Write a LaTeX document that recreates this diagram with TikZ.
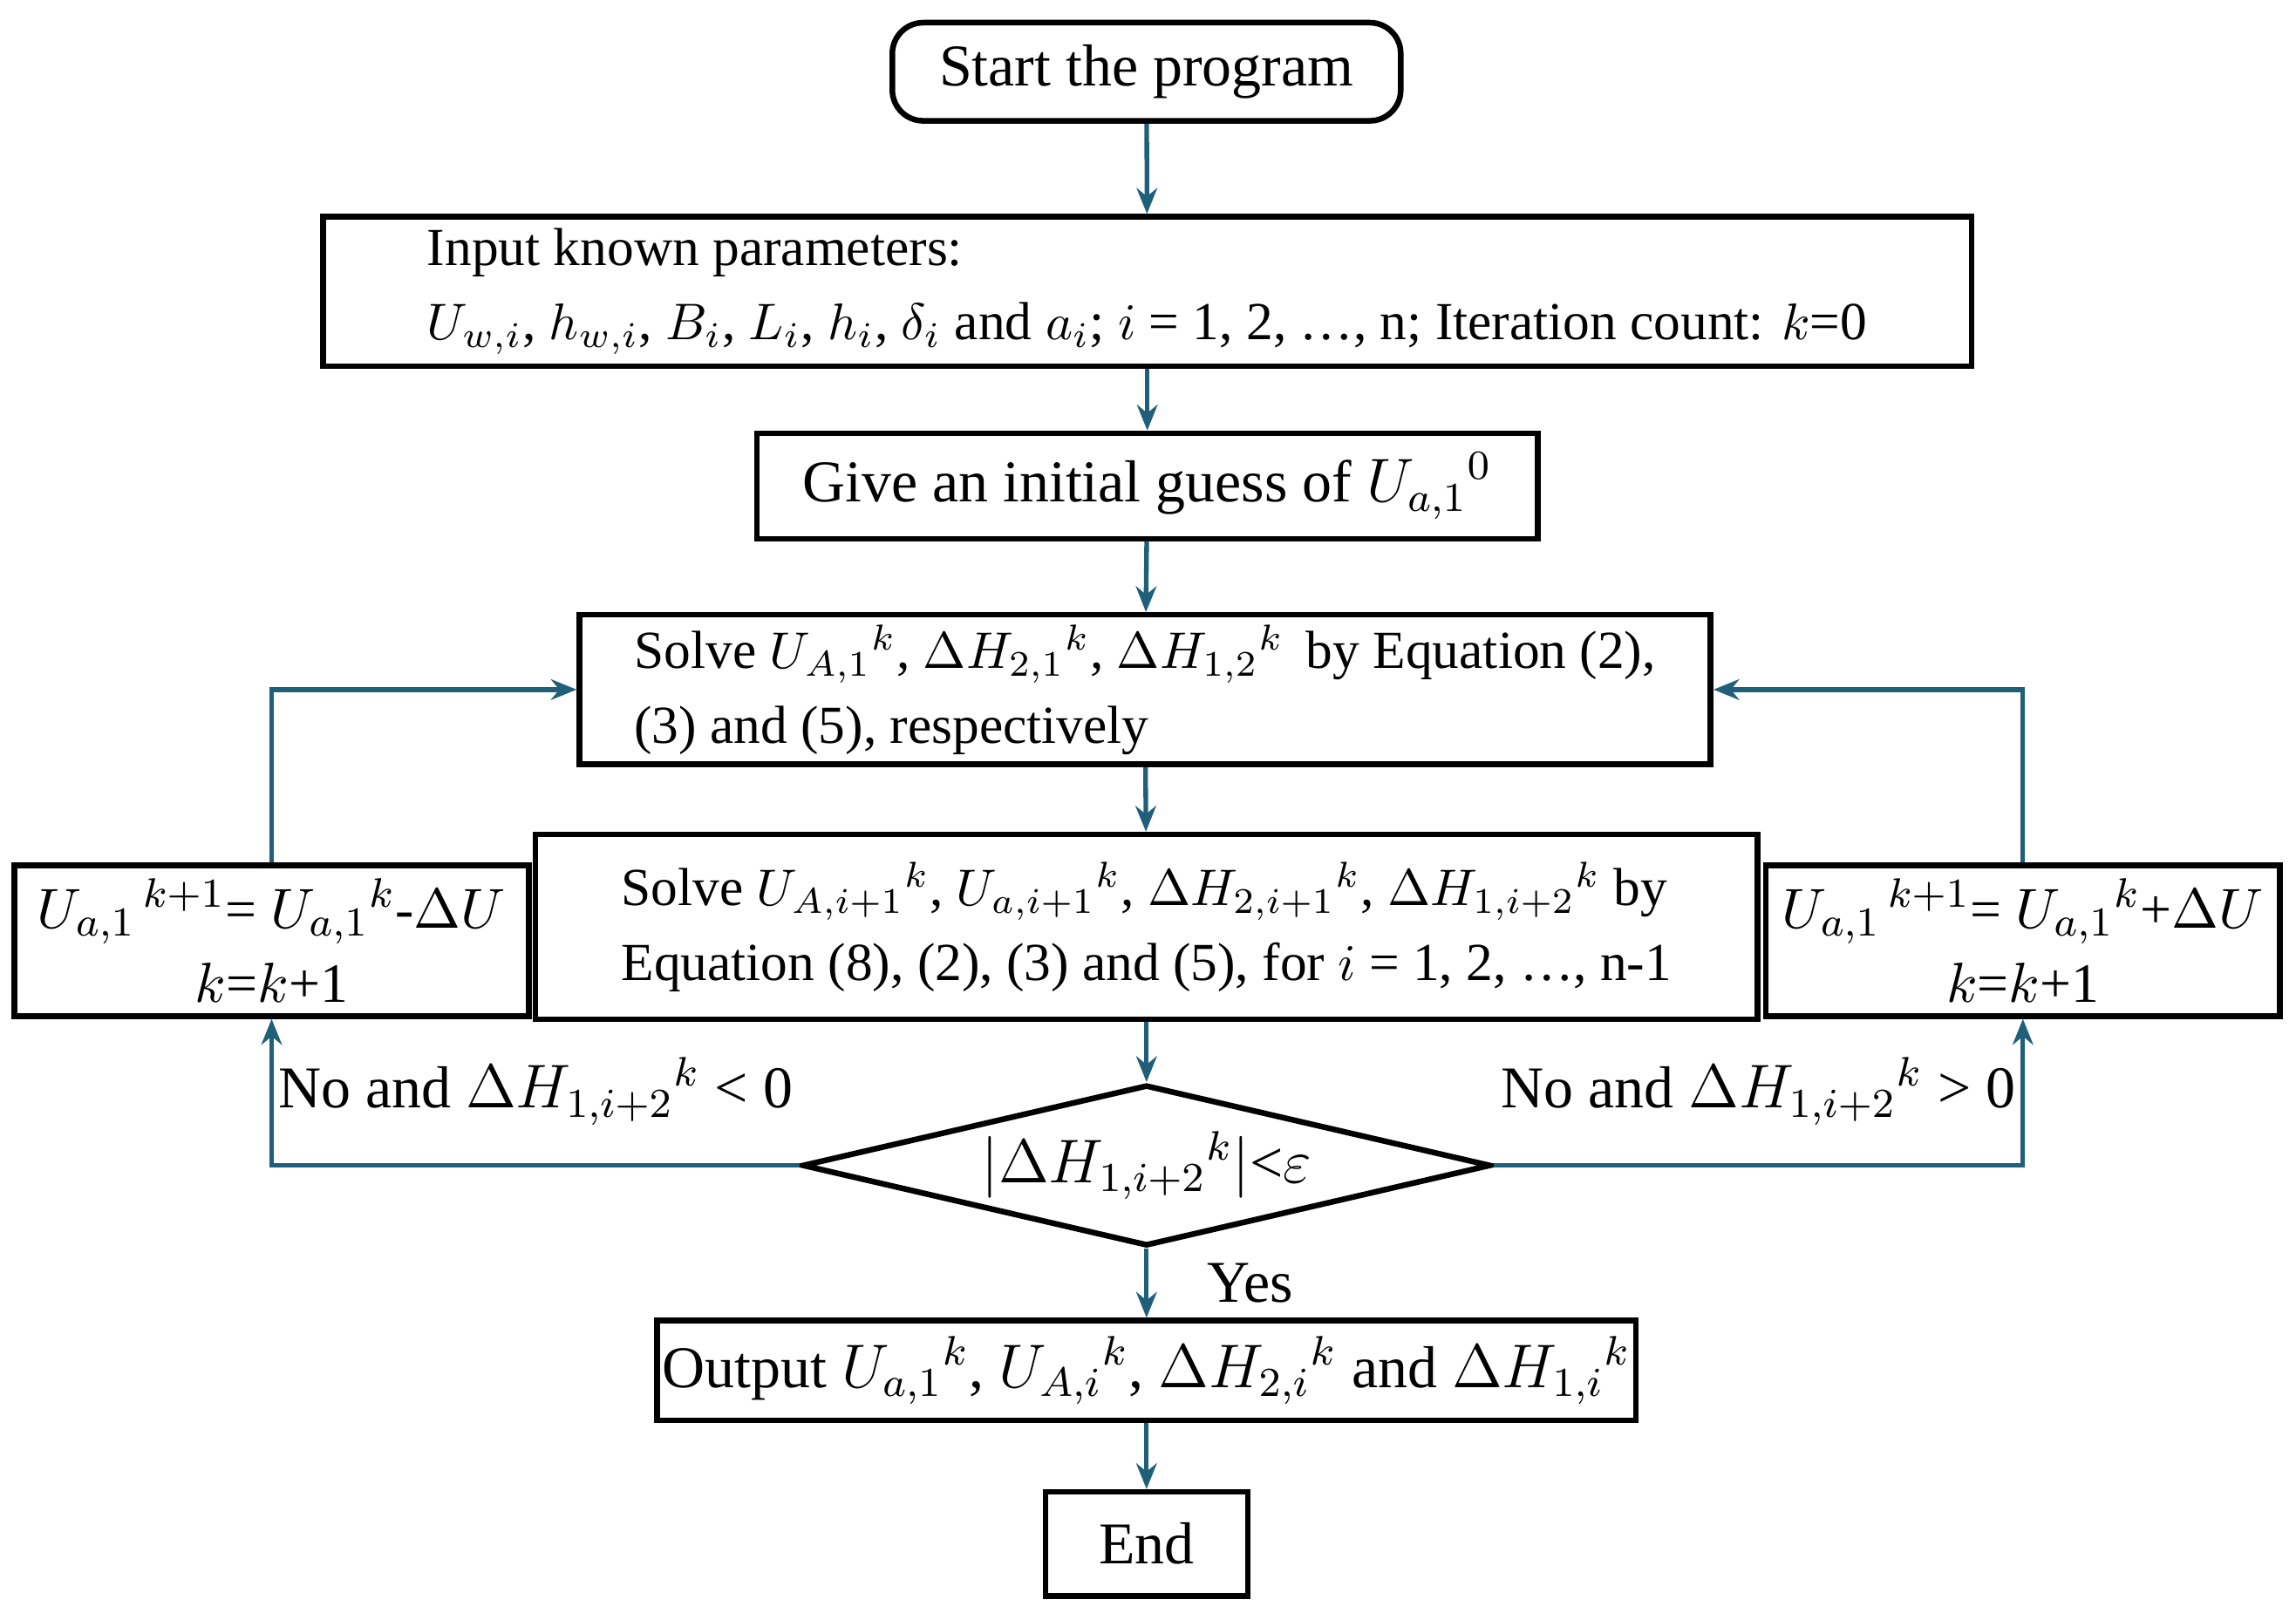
\documentclass[tikz,border=0pt]{standalone}
\usepackage{fontspec}
\setmainfont{Liberation Serif}
\usetikzlibrary{positioning,shapes.geometric,arrows.meta}
\definecolor{linkblue}{RGB}{31,95,122}
\tikzset{>={Stealth[length=5pt,width=4pt]}}
\tikzset{
  box/.style={draw,line width=1.1pt,inner sep=0pt,font=\fontsize{11.5}{14.5}\selectfont},
  wide/.style={font=\fontsize{10.4}{14.5}\selectfont,align=left},
  flow/.style={->,draw=linkblue,line width=0.9pt}
}
\begin{document}
\begin{tikzpicture}[x=0.01cm,y=-0.01cm]
\useasboundingbox (0,0) rectangle (1568,1106);

% Boxes
\node[box,rounded corners=6pt,minimum width=3.47cm,minimum height=0.67cm] (start) at (783,49) {Start the program};
\node[box,wide,minimum width=11.25cm,minimum height=1.02cm] (input) at (783.5,199)
  {Input known parameters:\\
   $U_{w,i}$, $h_{w,i}$, $B_i$, $L_i$, $h_i$, $\delta_i$ and $a_i$; $i$ = 1, 2, \dots, n; Iteration count: $k$=0};
\node[box,minimum width=5.33cm,minimum height=0.72cm] (guess) at (783.5,332) {Give an initial guess of $U_{a,1}{}^0$};
\node[box,wide,minimum width=7.72cm,minimum height=1.02cm] (solveA) at (782,471)
  {Solve $U_{A,1}{}^k$, $\Delta H_{2,1}{}^k$, $\Delta H_{1,2}{}^k$\, by Equation (2),\\
   (3) and (5), respectively};
\node[box,wide,minimum width=8.34cm,minimum height=1.26cm] (solveB) at (783,633)
  {Solve $U_{A,i+1}{}^k$, $U_{a,i+1}{}^k$, $\Delta H_{2,i+1}{}^k$, $\Delta H_{1,i+2}{}^k$ by\\
   Equation (8), (2), (3) and (5), for $i$ = 1, 2, \dots, n-1};
\node[box,font=\fontsize{10.8}{14.5}\selectfont,minimum width=3.51cm,minimum height=1.03cm,align=center] (minus) at (185.5,642.5)
  {$U_{a,1}{}^{\,k+1}$= $U_{a,1}{}^k$-$\Delta U$\\ $k$=$k$+1};
\node[box,font=\fontsize{10.8}{14.5}\selectfont,minimum width=3.51cm,minimum height=1.03cm,align=center] (plus) at (1381.5,642.5)
  {$U_{a,1}{}^{\,k+1}$= $U_{a,1}{}^k$+$\Delta U$\\ $k$=$k$+1};
\node[box,diamond,aspect=4.27,minimum width=4.7cm,minimum height=1.1cm] (check) at (783,796)
  {$|\Delta H_{1,i+2}{}^k|$<$\varepsilon$};
\node[box,minimum width=6.68cm,minimum height=0.68cm] (output) at (783,936)
  {Output $U_{a,1}{}^k$, $U_{A,i}{}^k$, $\Delta H_{2,i}{}^k$ and $\Delta H_{1,i}{}^k$};
\node[box,minimum width=1.38cm,minimum height=0.71cm] (end) at (783,1054.5) {End};

% Main flow
\draw[flow] (start) -- (input);
\draw[flow] (input) -- (guess);
\draw[flow] (guess) -- (solveA);
\draw[flow] (solveA) -- (solveB);
\draw[flow] (solveB) -- (check);
\draw[flow] (check) -- node[right,font=\fontsize{11.5}{14}\selectfont,xshift=8pt] {Yes} (output);
\draw[flow] (output) -- (end);

% Loops
\draw[flow] (check.west) -- (minus.south |- check.west)
  node[pos=0.5,above,font=\fontsize{11.5}{14}\selectfont,yshift=4pt] {No and $\Delta H_{1,i+2}{}^k$ < 0} -- (minus.south);
\draw[flow] (check.east) -- (plus.south |- check.east)
  node[pos=0.5,above,font=\fontsize{11.5}{14}\selectfont,yshift=4pt] {No and $\Delta H_{1,i+2}{}^k$ > 0} -- (plus.south);
\draw[flow] (minus.north) |- (solveA.west);
\draw[flow] (plus.north) |- (solveA.east);
\end{tikzpicture}
\end{document}
